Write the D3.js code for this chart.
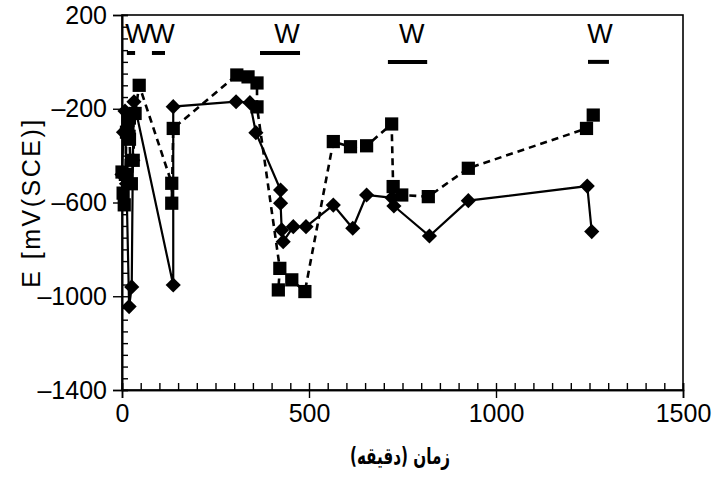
<!DOCTYPE html>
<html>
<head>
<meta charset="utf-8">
<script src="https://cdn.jsdelivr.net/npm/d3@7"></script>
<style>
  html, body { margin: 0; padding: 0; background: #fff; }
  svg { display: block; }
</style>
</head>
<body>
<svg id="chart" width="718" height="479"></svg>
<script>
// ---- data ----
const squareTime = [0, 3, 6, 9, 12, 16, 20, 25, 30, 35, 46, 133, 133, 137, 307, 337, 361, 361, 422, 418, 454, 489, 565, 611, 654, 721, 725, 748, 819, 926, 1242, 1260];
const squareE    = [-470, -560, -610, -480, -300, -250, -330, -520, -420, -220, -100, -518, -603, -284, -56, -64, -90, -192, -881, -973, -930, -980, -340, -362, -358, -265, -532, -568, -575, -454, -284, -227];

const diamondTime = [0, 4, 8, 12, 19, 26, 29, 32, 137, 137, 305, 342, 358, 424, 424, 427, 431, 458, 492, 565, 617, 654, 722, 727, 822, 926, 1244, 1256];
const diamondE    = [-480, -300, -210, -520, -1044, -960, -420, -170, -952, -191, -170, -174, -302, -547, -603, -717, -767, -703, -703, -611, -710, -568, -580, -615, -743, -592, -530, -724];

// "W" annotation bars (start, end in minutes; level in mV)
const wStart = [13, 80, 369, 711, 1246];
const wEnd   = [35, 115, 476, 816, 1302];
const wLevel = [38, 38, 38, 0, 0];
const wLabelTime = [43, 107, 441, 775, 1278];
const wLabel = ["W", "W", "W", "W", "W"];

const xTicks = [0, 500, 1000, 1500];
const yTicks = [200, -200, -600, -1000, -1400];
const xTitle = "زمان (دقیقه)";
const yTitle = "E [mV(SCE)]";

// ---- layout ----
const svg = d3.select("#chart");
const margin = { left: 122, top: 15 };
const width = 561, height = 375;
const g = svg.append("g").attr("transform", `translate(${margin.left},${margin.top})`);

const x = d3.scaleLinear().domain([0, 1500]).range([0, width]);
const y = d3.scaleLinear().domain([-1400, 200]).range([height, 0]);

const tickFont = "'Liberation Sans', Arial, sans-serif";

// frame
g.append("rect").attr("x", 0).attr("y", 0).attr("width", width).attr("height", height)
  .attr("fill", "none").attr("stroke", "#000").attr("stroke-width", 1.6);

// x axis major (outward) + minor (inward)
const xAxis = g.append("g").attr("transform", `translate(0,${height})`)
  .call(d3.axisBottom(x).tickValues(xTicks).tickSize(8).tickPadding(6).tickFormat(d3.format("d")));
const xMinor = g.append("g").attr("transform", `translate(0,${height})`)
  .call(d3.axisTop(x).tickValues(d3.range(0, 1501, 50)).tickSize(7).tickFormat(""));

// y axis major (outward) + minor (inward)
const yAxis = g.append("g")
  .call(d3.axisLeft(y).tickValues(yTicks).tickSize(9).tickPadding(6).tickFormat(d => d < 0 ? "\u2013" + Math.abs(d) : String(d)));
const yMinor = g.append("g")
  .call(d3.axisRight(y).tickValues(d3.range(-1400, 201, 50)).tickSize(6).tickFormat(""));

[xAxis, xMinor, yAxis, yMinor].forEach(a => {
  a.select(".domain").attr("stroke", "#000").attr("stroke-width", 1.6);
  a.selectAll(".tick line").attr("stroke", "#000").attr("stroke-width", 1.4);
  a.selectAll("text").attr("fill", "#000").style("font-family", tickFont).style("font-size", "25px");
});

// axis titles
svg.append("text")
  .attr("transform", `translate(40,${margin.top + y(-600)}) rotate(-90)`)
  .attr("text-anchor", "middle")
  .style("font-family", tickFont).style("font-size", "25px").style("letter-spacing", "2.5px")
  .attr("fill", "#000")
  .text(yTitle);

svg.append("text")
  .attr("transform", "translate(400,464) scale(0.8,1.2)")
  .attr("text-anchor", "middle").attr("direction", "rtl")
  .style("font-family", "'DejaVu Sans', 'Noto Sans', sans-serif").style("font-size", "19px").style("font-weight", "bold")
  .attr("fill", "#000")
  .text(xTitle);

// W bars and labels
const wData = wStart.map((s, i) => ({ s, e: wEnd[i], lv: wLevel[i], lt: wLabelTime[i], lab: wLabel[i] }));
g.selectAll(".wbar").data(wData).enter().append("line")
  .attr("x1", d => x(d.s)).attr("x2", d => x(d.e))
  .attr("y1", d => y(d.lv)).attr("y2", d => y(d.lv))
  .attr("stroke", "#000").attr("stroke-width", 4);
g.selectAll(".wlab").data(wData).enter().append("text")
  .attr("x", d => x(d.lt)).attr("y", 28)
  .attr("text-anchor", "middle")
  .style("font-family", tickFont).style("font-size", "27px")
  .attr("fill", "#000")
  .text(d => d.lab);

// series
const sq = squareTime.map((t, i) => ({ t, e: squareE[i] }));
const di = diamondTime.map((t, i) => ({ t, e: diamondE[i] }));
const line = d3.line().x(d => x(d.t)).y(d => y(d.e));

g.append("path").datum(sq).attr("d", line)
  .attr("fill", "none").attr("stroke", "#000").attr("stroke-width", 2.6).attr("stroke-dasharray", "7,5");
g.append("path").datum(di).attr("d", line)
  .attr("fill", "none").attr("stroke", "#000").attr("stroke-width", 2.2);

const diamondSym = d3.symbol().type(d3.symbolSquare).size(115);
g.selectAll(".dia").data(di).enter().append("path")
  .attr("d", diamondSym)
  .attr("transform", d => `translate(${x(d.t)},${y(d.e)}) rotate(45)`)
  .attr("fill", "#000");

const sqSym = d3.symbol().type(d3.symbolSquare).size(175);
g.selectAll(".sq").data(sq).enter().append("path")
  .attr("d", sqSym)
  .attr("transform", d => `translate(${x(d.t)},${y(d.e)})`)
  .attr("fill", "#000");
</script>
</body>
</html>
